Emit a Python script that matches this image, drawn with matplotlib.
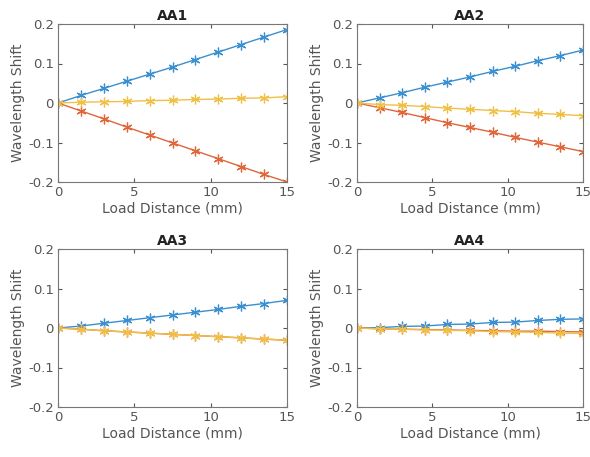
import numpy as np
import matplotlib.pyplot as plt

x = [0, 1.5, 3, 4.5, 6, 7.5, 9, 10.5, 12, 13.5, 15]  # load distance (mm)
titles = ['AA1', 'AA2', 'AA3', 'AA4']

blue = [
    [0, 0.019, 0.037, 0.055, 0.073, 0.091, 0.110, 0.129, 0.148, 0.167, 0.186],
    [0, 0.013, 0.026, 0.040, 0.053, 0.066, 0.080, 0.093, 0.107, 0.120, 0.134],
    [0, 0.005, 0.012, 0.019, 0.026, 0.033, 0.040, 0.047, 0.055, 0.062, 0.070],
    [0, 0.001, 0.004, 0.005, 0.009, 0.010, 0.014, 0.015, 0.019, 0.022, 0.023],
]
red = [
    [0, -0.020, -0.040, -0.061, -0.081, -0.101, -0.121, -0.141, -0.161, -0.181, -0.200],
    [0, -0.012, -0.024, -0.037, -0.050, -0.062, -0.074, -0.087, -0.099, -0.111, -0.123],
    [0, -0.003, -0.007, -0.010, -0.013, -0.016, -0.019, -0.022, -0.025, -0.028, -0.031],
    [0, -0.002, -0.003, -0.004, -0.005, -0.006, -0.007, -0.008, -0.008, -0.009, -0.010],
]
yellow = [
    [0, 0.002, 0.003, 0.004, 0.006, 0.007, 0.009, 0.010, 0.012, 0.013, 0.016],
    [0, -0.004, -0.006, -0.009, -0.013, -0.016, -0.019, -0.022, -0.026, -0.029, -0.032],
    [0, -0.003, -0.007, -0.010, -0.013, -0.016, -0.019, -0.022, -0.025, -0.028, -0.031],
    [0, -0.002, -0.003, -0.005, -0.006, -0.007, -0.009, -0.010, -0.011, -0.013, -0.014],
]

colors = ['#3a8fd0', '#e0663a', '#f0c045']
txt = '#555555'

fig = plt.figure(figsize=(5.9, 4.57), dpi=100)
# axes positions in figure fractions (left, bottom, width, height)
pos = [
    [58 / 590, 1 - 182 / 457, 229 / 590, 158 / 457],
    [357 / 590, 1 - 182 / 457, 226 / 590, 158 / 457],
    [58 / 590, 1 - 407 / 457, 229 / 590, 158 / 457],
    [357 / 590, 1 - 407 / 457, 226 / 590, 158 / 457],
]

for i in range(4):
    ax = fig.add_axes(pos[i])
    for data, c in zip([blue[i], red[i], yellow[i]], colors):
        ax.plot(x, data, color=c, marker=(6, 2, 0), markersize=7, linewidth=1, markeredgewidth=0.9)
    ax.set_xlim(0, 15)
    ax.set_ylim(-0.2, 0.2)
    ax.set_xticks([0, 5, 10, 15])
    ax.set_yticks([-0.2, -0.1, 0, 0.1, 0.2])
    ax.set_yticklabels(['-0.2', '-0.1', '0', '0.1', '0.2'])
    ax.set_title(titles[i], fontsize=10, fontweight='bold', color='#222222', pad=3)
    ax.set_xlabel('Load Distance (mm)', fontsize=10, color=txt, labelpad=2)
    ax.set_ylabel('Wavelength Shift', fontsize=10, color=txt, labelpad=2)
    ax.tick_params(direction='in', labelsize=9.5, colors=txt, top=True, right=True, length=3, pad=3)
    for s in ax.spines.values():
        s.set_color('#777777')
        s.set_linewidth(0.8)

plt.savefig('out.png', dpi=100)
